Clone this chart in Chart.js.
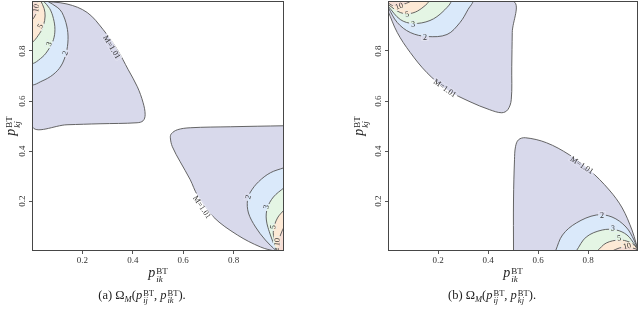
<!DOCTYPE html>
<html>
<head>
<meta charset="utf-8">
<script src="https://cdn.jsdelivr.net/npm/chart.js@4.4.0/dist/chart.umd.min.js"></script>
<style>
  body { margin: 0; width: 640px; height: 313px; background: #fff; position: relative; overflow: hidden;
         font-family: "Liberation Serif", serif; color: #222; }
  .panel { position: absolute; top: 0; }
  .lbl { position: absolute; white-space: nowrap; transform: translate(-50%, -50%); font-size: 14px; line-height: 14px; }
  .ylbl { transform: translate(-50%, -50%) rotate(-90deg); }
  .ss { display: inline-block; vertical-align: middle; font-size: 9px; line-height: 8px; margin-left: 1px; position: relative; top: 1px; }
  .ss span { display: block; }
  .cap { position: absolute; top: 297px; white-space: nowrap; transform: translate(-50%, -50%); font-size: 12.5px; line-height: 14px; }
  .cap .ss { font-size: 8.5px; line-height: 7.5px; }
</style>
</head>
<body>
<div class="panel" style="left:0px"><canvas id="chartA" width="300" height="270"></canvas></div>
<div class="panel" style="left:356px"><canvas id="chartB" width="284" height="270"></canvas></div>

<div class="lbl" style="left:158px;top:274px"><i>p</i><span class="ss"><span>BT</span><span><i>ik</i></span></span></div>
<div class="lbl ylbl" style="left:12px;top:126px"><i>p</i><span class="ss"><span>BT</span><span><i>kj</i></span></span></div>
<div class="lbl" style="left:513px;top:274px"><i>p</i><span class="ss"><span>BT</span><span><i>ik</i></span></span></div>
<div class="lbl ylbl" style="left:360px;top:126px"><i>p</i><span class="ss"><span>BT</span><span><i>kj</i></span></span></div>

<div class="cap" style="left:142px">(a) Ω<sub style="font-size:8.5px"><i>M</i></sub>(<i>p</i><span class="ss"><span>BT</span><span><i>ij</i></span></span>, <i>p</i><span class="ss"><span>BT</span><span><i>ik</i></span></span>).</div>
<div class="cap" style="left:492px">(b) Ω<sub style="font-size:8.5px"><i>M</i></sub>(<i>p</i><span class="ss"><span>BT</span><span><i>ij</i></span></span>, <i>p</i><span class="ss"><span>BT</span><span><i>kj</i></span></span>).</div>

<script>
const xTicks = [0.2, 0.4, 0.6, 0.8];
const yTicks = [0.2, 0.4, 0.6, 0.8];
const levelNames = ["M=1.01", "2", "3", "5", "10"];

// panel (a), upper-left lobe, contour curves M=1.01, 2, 3, 5, 10
const aUpperM = [[0.03, 1.0], [0.139, 0.988], [0.219, 0.954], [0.282, 0.886], [0.338, 0.806], [0.382, 0.725],
  [0.418, 0.657], [0.441, 0.593], [0.449, 0.545], [0.441, 0.521], [0.417, 0.513], [0.27, 0.509], [0.139, 0.505], [0, 0.501]];
const aUpper2 = [[0.06, 1.0], [0.1, 0.975], [0.119, 0.954], [0.138, 0.9], [0.143, 0.846], [0.135, 0.79],
  [0.115, 0.74], [0.083, 0.705], [0.04, 0.68], [0, 0.669]];
const aUpper3 = [[0.045, 1.0], [0.07, 0.97], [0.085, 0.93], [0.091, 0.886], [0.085, 0.845], [0.068, 0.81], [0.04, 0.775], [0, 0.754]];
const aUpper5 = [[0.035, 1.0], [0.048, 0.97], [0.052, 0.94], [0.046, 0.905], [0.03, 0.87], [0, 0.838]];
const aUpper10 = [[0.02, 1.0], [0.021, 0.97], [0.014, 0.945], [0, 0.926]];

// panel (a), lower-right lobe
const aLowerM = [[1.0, 0.501], [0.787, 0.497], [0.628, 0.493], [0.577, 0.485], [0.553, 0.469], [0.549, 0.453],
  [0.557, 0.417], [0.588, 0.357], [0.628, 0.285], [0.656, 0.224], [0.72, 0.136], [0.815, 0.064], [0.907, 0.016], [0.966, 0]];
const aLower2 = [[1.0, 0.333], [0.946, 0.313], [0.899, 0.277], [0.867, 0.236], [0.855, 0.204], [0.859, 0.152],
  [0.887, 0.096], [0.926, 0.044], [0.966, 0.004], [0.975, 0]];
const aLower3 = [[1.0, 0.253], [0.958, 0.216], [0.934, 0.172], [0.93, 0.124], [0.946, 0.064], [0.966, 0.012], [0.972, 0]];
const aLower5 = [[1.0, 0.164], [0.974, 0.132], [0.958, 0.084], [0.962, 0.04], [0.975, 0]];
const aLower10 = [[1.0, 0.096], [0.986, 0.064], [0.978, 0.024], [0.98, 0]];

// panel (b), upper-left lobe
const bUpperM = [[0, 0.96], [0.037, 0.874], [0.089, 0.794], [0.156, 0.713], [0.236, 0.645], [0.328, 0.597],
  [0.407, 0.565], [0.455, 0.553], [0.479, 0.565], [0.493, 0.605], [0.495, 0.737], [0.497, 0.874], [0.498, 1.0]];
const bUpper2 = [[0, 0.975], [0.037, 0.914], [0.089, 0.874], [0.156, 0.858], [0.236, 0.866], [0.288, 0.914], [0.32, 0.966], [0.336, 1.0]];
const bUpper3 = [[0, 0.98], [0.049, 0.926], [0.101, 0.91], [0.168, 0.922], [0.22, 0.958], [0.248, 1.0]];
const bUpper5 = [[0, 0.986], [0.049, 0.954], [0.089, 0.95], [0.128, 0.966], [0.16, 1.0]];
const bUpper10 = [[0, 0.992], [0.029, 0.978], [0.061, 0.986], [0.089, 1.0]];

// panel (b), lower-right lobe
const bLowerM = [[0.502, 0], [0.502, 0.204], [0.506, 0.365], [0.51, 0.417], [0.522, 0.445], [0.55, 0.453], [0.634, 0.433],
  [0.725, 0.385], [0.805, 0.325], [0.885, 0.244], [0.937, 0.172], [0.976, 0.084], [0.992, 0.032], [0.998, 0.01]];
const bLower2 = [[0.67, 0], [0.698, 0.064], [0.753, 0.112], [0.833, 0.144], [0.896, 0.136], [0.952, 0.096], [0.984, 0.044], [1.0, 0.004]];
const bLower3 = [[0.753, 0], [0.793, 0.056], [0.857, 0.084], [0.913, 0.084], [0.956, 0.064], [0.988, 0.024], [1.0, 0.004]];
const bLower5 = [[0.837, 0], [0.873, 0.032], [0.925, 0.044], [0.965, 0.036], [0.992, 0.016]];
const bLower10 = [[0.897, 0], [0.925, 0.012], [0.956, 0.016], [0.992, 0.008]];

const cornerTopLeft = [0, 1];
const cornerBottomRight = [1, 0];

// contour label spots: level index, x, y, angle (deg)
const aLabelSpots = [
  [0, 0.317, 0.816, 59], [1, 0.131, 0.792, -70], [2, 0.067, 0.828, -68], [3, 0.032, 0.9, -63], [4, 0.016, 0.972, -80],
  [0, 0.675, 0.176, 56], [1, 0.857, 0.216, -75], [2, 0.929, 0.176, -75], [3, 0.956, 0.096, -80], [4, 0.972, 0.036, -85]
];
const bLabelSpots = [
  [0, 0.228, 0.652, 35], [1, 0.148, 0.856, 0], [2, 0.1, 0.908, -3], [3, 0.076, 0.948, -10], [4, 0.044, 0.98, -20],
  [0, 0.776, 0.344, 33], [1, 0.856, 0.144, 0], [2, 0.9, 0.092, 3], [3, 0.924, 0.052, -8], [4, 0.956, 0.02, -12]
];

const levelColors = ["rgb(216,217,235)", "rgb(218,233,250)", "rgb(228,245,228)", "rgb(253,233,213)", "rgb(246,221,212)"];
const lineColor = "rgb(85,85,85)";
const serif = "'Liberation Serif', serif";

function regionSets(groups) {
  const sets = [];
  groups.forEach(({ curves, corner }) => {
    curves.forEach((curve, i) => {
      sets.push({
        data: curve.concat([corner]).map(([x, y]) => ({ x, y })),
        fill: "shape",
        backgroundColor: levelColors[i],
        borderColor: lineColor,
        borderWidth: 0.9,
        pointRadius: 0,
        tension: 0.35,
        clip: 0,
        order: -i
      });
    });
  });
  return sets;
}

const contourLabels = {
  id: "contourLabels",
  afterDatasetsDraw(chart, args, opts) {
    const ctx = chart.ctx;
    const xs = chart.scales.x;
    const ys = chart.scales.y;
    const metas = chart.getSortedVisibleDatasetMetas();
    const area = chart.chartArea;
    ctx.save();
    ctx.font = "8px " + serif;
    opts.spots.forEach(([lvl, lx, ly, angle]) => {
      const text = levelNames[lvl];
      const px = xs.getPixelForValue(lx);
      const py = ys.getPixelForValue(ly);
      const a = angle * Math.PI / 180;
      const w = ctx.measureText(text).width + 3;

      // knock the contour line out under the label
      ctx.save();
      ctx.beginPath();
      ctx.rect(area.left, area.top, area.right - area.left, area.bottom - area.top);
      ctx.clip();
      ctx.translate(px, py);
      ctx.rotate(a);
      ctx.beginPath();
      ctx.rect(-w / 2, -3.5, w, 7);
      ctx.rotate(-a);
      ctx.translate(-px, -py);
      ctx.clip();
      ctx.fillStyle = "#fff";
      ctx.fillRect(area.left, area.top, area.right - area.left, area.bottom - area.top);
      for (let i = metas.length - 1; i >= 0; i--) {
        const line = metas[i].dataset;
        ctx.beginPath();
        line.path(ctx);
        ctx.closePath();
        ctx.fillStyle = line.options.backgroundColor;
        ctx.fill();
      }
      ctx.restore();

      ctx.save();
      ctx.translate(px, py);
      ctx.rotate(a);
      ctx.fillStyle = "#333";
      ctx.textAlign = "center";
      ctx.textBaseline = "middle";
      ctx.fillText(text, 0, 0.5);
      ctx.restore();
    });
    ctx.restore();
  }
};

const frame = {
  id: "frame",
  afterDraw(chart) {
    const { left, top, right, bottom } = chart.chartArea;
    const ctx = chart.ctx;
    ctx.save();
    ctx.strokeStyle = "rgb(70,70,70)";
    ctx.lineWidth = 1;
    ctx.strokeRect(Math.round(left) + 0.5, Math.round(top) + 0.5, Math.round(right - left) - 1, Math.round(bottom - top) - 1);
    ctx.restore();
  }
};

function makeChart(id, groups, spots, rightPad) {
  return new Chart(document.getElementById(id), {
    type: "line",
    data: { datasets: regionSets(groups) },
    options: {
      responsive: false,
      animation: false,
      events: [],
      layout: { padding: { left: 0, top: 1, right: rightPad, bottom: 0 } },
      plugins: { legend: { display: false }, tooltip: { enabled: false }, contourLabels: { spots } },
      scales: {
        x: {
          type: "linear", min: 0, max: 1,
          border: { display: false },
          grid: { drawOnChartArea: false, drawTicks: true, tickLength: 3, color: lineColor },
          ticks: { font: { family: serif, size: 9 }, color: "#333", padding: 1, maxRotation: 0, autoSkip: false,
                   callback: (v) => v.toFixed(1) },
          afterBuildTicks: (s) => { s.ticks = xTicks.map((v) => ({ value: v })); },
          afterFit: (s) => { s.height = 19; s.paddingLeft = 0; s.paddingRight = 0; }
        },
        y: {
          type: "linear", min: 0, max: 1,
          border: { display: false },
          grid: { drawOnChartArea: false, drawTicks: true, tickLength: 3, color: lineColor },
          ticks: { font: { family: serif, size: 9 }, color: "#333", padding: 1, minRotation: 90, maxRotation: 90,
                   crossAlign: "center", autoSkip: false, callback: (v) => v.toFixed(1) },
          afterBuildTicks: (s) => { s.ticks = yTicks.map((v) => ({ value: v })); },
          afterFit: (s) => { s.width = 32; s.paddingTop = 0; s.paddingBottom = 0; }
        }
      }
    },
    plugins: [contourLabels, frame]
  });
}

makeChart("chartA", [
  { curves: [aUpperM, aUpper2, aUpper3, aUpper5, aUpper10], corner: cornerTopLeft },
  { curves: [aLowerM, aLower2, aLower3, aLower5, aLower10], corner: cornerBottomRight }
], aLabelSpots, 16);

makeChart("chartB", [
  { curves: [bUpperM, bUpper2, bUpper3, bUpper5, bUpper10], corner: cornerTopLeft },
  { curves: [bLowerM, bLower2, bLower3, bLower5, bLower10], corner: cornerBottomRight }
], bLabelSpots, 2);
</script>
</body>
</html>
